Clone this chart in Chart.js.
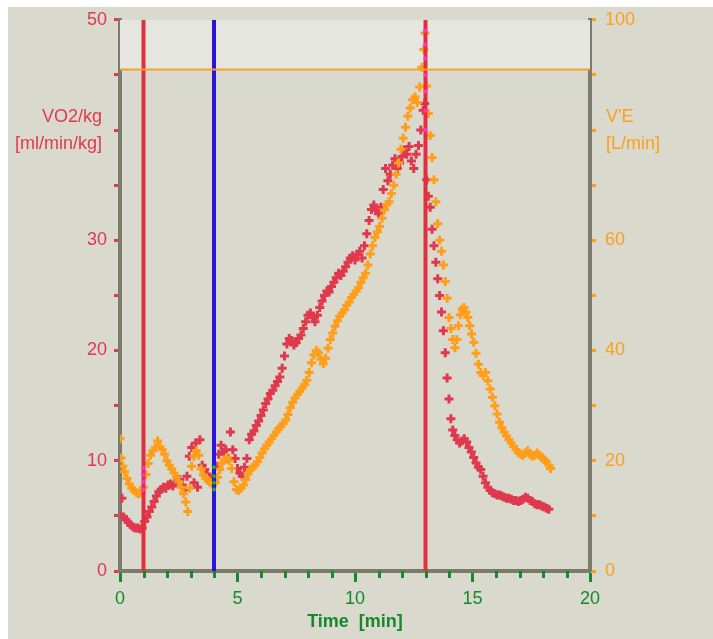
<!DOCTYPE html>
<html>
<head>
<meta charset="utf-8">
<script src="https://cdn.jsdelivr.net/npm/chart.js@4.4.1/dist/chart.umd.min.js"></script>
<style>
  html, body { margin: 0; padding: 0; background: #ffffff; }
  #frame { position: absolute; left: 8px; top: 7px; width: 705px; height: 632px; background: #d9d9ce; }
  #chart { position: absolute; left: 8px; top: 0; display: block; }
</style>
</head>
<body>
<div id="frame"></div>
<canvas id="chart" width="705" height="639"></canvas>
<script>
// VO2/kg [ml/min/kg], left axis
const vo2Time = [0.00, 0.08, 0.15, 0.25, 0.35, 0.45, 0.55, 0.65, 0.75, 0.85, 0.95, 1.05, 1.15, 1.25, 1.35, 1.45, 1.55, 1.65, 1.75, 1.85, 1.95, 2.05, 2.15, 2.25, 2.35, 2.45, 2.55, 2.65, 2.75, 2.85, 2.95, 3.05, 3.15, 3.22, 3.3, 3.4, 3.5, 3.6, 3.7, 3.8, 3.9, 4.0, 4.1, 4.2, 4.3, 4.4, 4.5, 4.6, 4.7, 4.8, 4.9, 5.0, 5.1, 5.2, 5.3, 5.4, 5.5, 5.6, 5.7, 5.8, 5.9, 6.0, 6.1, 6.2, 6.3, 6.4, 6.5, 6.6, 6.7, 6.8, 6.9, 7.0, 7.1, 7.2, 7.3, 7.4, 7.5, 7.6, 7.7, 7.8, 7.9, 8.0, 8.1, 8.2, 8.3, 8.4, 8.5, 8.6, 8.7, 8.8, 8.9, 9.0, 9.1, 9.2, 9.3, 9.4, 9.5, 9.6, 9.7, 9.8, 9.9, 10.0, 10.1, 10.2, 10.3, 10.4, 10.5, 10.6, 10.7, 10.8, 10.9, 11.0, 11.1, 11.2, 11.3, 11.4, 11.5, 11.6, 11.7, 11.8, 11.9, 12.0, 12.1, 12.2, 12.3, 12.4, 12.5, 12.6, 12.7, 12.8, 12.9, 12.97, 13.05, 13.12, 13.2, 13.28, 13.36, 13.44, 13.52, 13.6, 13.68, 13.76, 13.84, 13.92, 14.0, 14.08, 14.16, 14.25, 14.35, 14.45, 14.55, 14.65, 14.75, 14.85, 14.95, 15.05, 15.15, 15.25, 15.35, 15.45, 15.55, 15.65, 15.75, 15.85, 15.95, 16.05, 16.15, 16.25, 16.35, 16.45, 16.55, 16.65, 16.75, 16.85, 16.95, 17.05, 17.15, 17.25, 17.35, 17.45, 17.55, 17.65, 17.75, 17.85, 17.95, 18.05, 18.15, 18.25];
const vo2Kg = [5.1, 6.6, 4.9, 4.7, 4.4, 4.2, 4.0, 3.9, 3.9, 3.8, 3.9, 4.5, 4.9, 5.4, 5.8, 6.3, 6.8, 7.2, 7.4, 7.6, 7.5, 7.8, 7.9, 7.7, 8.0, 8.1, 8.3, 7.8, 7.4, 8.6, 10.4, 11.2, 8.0, 11.6, 7.6, 11.9, 9.6, 9.2, 8.8, 8.4, 8.2, 8.6, 9.5, 10.6, 11.4, 10.8, 11.0, 10.2, 12.6, 11.0, 10.2, 9.3, 8.9, 8.6, 9.4, 10.2, 11.9, 12.4, 12.7, 13.2, 13.6, 14.1, 14.6, 15.2, 15.6, 16.1, 16.4, 16.8, 17.2, 17.6, 18.4, 19.5, 20.6, 21.1, 20.9, 20.5, 20.7, 21.1, 21.4, 22.0, 22.6, 23.2, 23.4, 23.0, 22.6, 23.2, 23.9, 24.5, 25.0, 25.4, 25.3, 25.8, 26.2, 26.6, 27.0, 26.8, 27.2, 27.6, 28.0, 28.4, 28.6, 28.2, 28.7, 29.0, 28.4, 29.5, 30.6, 31.8, 32.8, 33.2, 32.7, 32.4, 33.0, 34.6, 36.5, 35.4, 36.0, 36.8, 37.4, 36.5, 37.0, 37.6, 38.2, 37.8, 38.5, 37.2, 36.5, 37.8, 38.6, 40.0, 41.8, 42.4, 35.5, 34.0, 33.0, 31.0, 29.5, 28.0, 26.5, 25.0, 23.5, 21.8, 19.8, 17.5, 15.6, 13.8, 12.8, 12.3, 11.9, 11.6, 11.8, 12.0, 11.7, 11.2, 10.8, 10.3, 9.8, 9.4, 9.2, 8.6, 8.0, 7.6, 7.3, 7.1, 7.0, 6.9, 6.9, 6.8, 6.7, 6.6, 6.6, 6.5, 6.4, 6.4, 6.3, 6.4, 6.5, 6.7, 6.6, 6.4, 6.3, 6.1, 6.0, 6.0, 5.9, 5.8, 5.7, 5.6];

// V'E [L/min], right axis
const veTime = [0.00, 0.05, 0.12, 0.2, 0.3, 0.4, 0.5, 0.6, 0.7, 0.8, 0.9, 1.0, 1.1, 1.2, 1.3, 1.4, 1.5, 1.6, 1.7, 1.8, 1.9, 2.0, 2.1, 2.2, 2.3, 2.4, 2.5, 2.6, 2.7, 2.8, 2.88, 2.97, 3.05, 3.15, 3.25, 3.35, 3.45, 3.55, 3.65, 3.75, 3.85, 3.95, 4.05, 4.15, 4.25, 4.35, 4.45, 4.55, 4.65, 4.75, 4.85, 4.95, 5.05, 5.15, 5.25, 5.35, 5.45, 5.55, 5.65, 5.75, 5.85, 5.95, 6.05, 6.15, 6.25, 6.35, 6.45, 6.55, 6.65, 6.75, 6.85, 6.95, 7.05, 7.15, 7.25, 7.35, 7.45, 7.55, 7.65, 7.75, 7.85, 7.95, 8.05, 8.15, 8.25, 8.35, 8.45, 8.55, 8.65, 8.75, 8.85, 8.95, 9.05, 9.15, 9.25, 9.35, 9.45, 9.55, 9.65, 9.75, 9.85, 9.95, 10.05, 10.15, 10.25, 10.35, 10.45, 10.55, 10.65, 10.75, 10.85, 10.95, 11.05, 11.15, 11.25, 11.35, 11.45, 11.55, 11.65, 11.75, 11.85, 11.95, 12.05, 12.15, 12.25, 12.35, 12.45, 12.55, 12.65, 12.75, 12.85, 12.93, 12.98, 13.05, 13.12, 13.2, 13.28, 13.36, 13.44, 13.52, 13.6, 13.68, 13.76, 13.84, 13.92, 14.0, 14.08, 14.16, 14.25, 14.33, 14.4, 14.48, 14.56, 14.64, 14.72, 14.8, 14.88, 14.96, 15.05, 15.15, 15.25, 15.35, 15.45, 15.55, 15.65, 15.75, 15.85, 15.95, 16.05, 16.15, 16.25, 16.35, 16.45, 16.55, 16.65, 16.75, 16.85, 16.95, 17.05, 17.15, 17.25, 17.35, 17.45, 17.55, 17.65, 17.75, 17.85, 17.95, 18.05, 18.15, 18.25, 18.32];
const veLmin = [24.0, 20.5, 19.0, 18.0, 16.8, 15.8, 15.0, 14.6, 14.2, 14.0, 14.3, 15.2, 17.5, 19.5, 21.0, 21.8, 22.4, 23.6, 22.6, 22.0, 21.2, 20.0, 19.2, 18.5, 17.8, 17.0, 16.2, 15.2, 14.0, 12.5, 10.8, 15.0, 19.0, 20.8, 21.8, 21.0, 18.5, 17.4, 16.8, 16.4, 16.0, 15.6, 16.0, 17.0, 18.4, 19.6, 20.2, 20.6, 20.0, 18.6, 16.2, 14.8, 14.6, 15.0, 15.6, 16.6, 17.6, 18.4, 18.8, 19.2, 19.8, 20.6, 21.4, 22.2, 22.8, 23.4, 24.0, 24.6, 25.2, 25.8, 26.2, 26.8, 27.4, 28.4, 29.6, 30.6, 31.4, 32.0, 32.6, 33.2, 33.8, 34.6, 36.0, 37.8, 39.2, 40.0, 39.6, 38.4, 37.6, 38.6, 40.4, 42.0, 43.2, 44.4, 45.4, 46.2, 46.8, 47.4, 48.2, 48.8, 49.6, 50.2, 50.8, 51.4, 52.4, 53.2, 54.0, 55.5, 57.5, 59.0, 60.5, 61.5, 62.5, 64.0, 65.5, 66.5, 67.0, 68.5, 70.0, 72.0, 74.0, 76.5, 78.5, 80.5, 82.5, 84.0, 85.5, 86.0, 85.0, 87.8, 91.4, 94.6, 97.6, 88.0, 83.0, 79.0, 75.0, 71.0, 67.0, 63.0, 60.0, 58.0, 55.5, 52.5, 49.5, 46.0, 44.0, 42.0, 40.5, 42.0, 44.5, 46.5, 47.5, 47.8, 47.0, 46.0, 44.5, 43.0, 41.5, 39.5, 37.5, 36.0, 35.5, 36.0, 34.5, 33.0, 31.5, 30.0, 28.5, 27.0, 26.0, 25.2, 24.5, 23.8, 23.2, 22.6, 22.0, 21.5, 21.2, 21.0, 21.4, 21.8, 21.2, 20.8, 21.0, 21.4, 21.0, 20.6, 20.2, 19.8, 19.2, 18.6];

// event markers (time in min) and the breaths highlighted on them (V'E)
const markerTimes = [1, 4, 13];
const markerColors = ['#e0303f', '#2a14d8', '#e0303f'];
const markerHighlightVe = [[14.8, 16.2, 17.4, 18.6], [14.8, 16.0, 17.2, 18.8], [80, 83.5, 87, 90, 93, 95.5, 98]];
const highlightColors = ['#ff33dd', '#22aa22', '#ff33dd'];
const mvvLine = 91;

const xLabels = [0, 5, 10, 15, 20];
const leftLabels = [0, 10, 20, 30, 50];
const rightLabels = [0, 20, 40, 60, 100];

const RED = '#e0394d';
const ORANGE = '#ff9e1a';
const GREEN = '#16892b';
const AXIS = '#7b7b6b';
const FONT = '"Liberation Sans", Arial, sans-serif';

const toPoints = (xs, ys) => xs.map((x, i) => ({ x: x, y: ys[i] }));

const datasets = [];

// light band above the MVV line
datasets.push({
  type: 'line', yAxisID: 'y2', order: 20,
  data: [{ x: 0, y: 100 }, { x: 20, y: 100 }],
  fill: { value: mvvLine }, backgroundColor: '#e6e6e0',
  borderWidth: 0, pointRadius: 0,
});

datasets.push({
  type: 'scatter', label: 'VO2/kg', yAxisID: 'y', order: 11,
  data: toPoints(vo2Time, vo2Kg),
  pointStyle: 'cross', pointRadius: 4.5, borderWidth: 3,
  borderColor: RED, backgroundColor: RED,
});

datasets.push({
  type: 'scatter', label: "V'E", yAxisID: 'y2', order: 10,
  data: toPoints(veTime, veLmin),
  pointStyle: 'cross', pointRadius: 4.5, borderWidth: 3,
  borderColor: ORANGE, backgroundColor: ORANGE,
});

markerTimes.forEach((t, i) => {
  datasets.push({
    type: 'line', yAxisID: 'y', order: 5,
    data: [{ x: t, y: 0 }, { x: t, y: 50 }],
    borderColor: markerColors[i], borderWidth: 4, pointRadius: 0, fill: false,
  });
});

datasets.push({
  type: 'line', yAxisID: 'y2', order: 4,
  data: [{ x: 0, y: mvvLine }, { x: 20, y: mvvLine }],
  borderColor: '#f5a02a', borderWidth: 2, pointRadius: 0, fill: false,
});

markerTimes.forEach((t, i) => {
  datasets.push({
    type: 'scatter', yAxisID: 'y2', order: 1,
    data: markerHighlightVe[i].map(v => ({ x: t, y: v })),
    pointStyle: 'cross', pointRadius: 2, borderWidth: 2,
    borderColor: highlightColors[i],
  });
});

// minor x ticks are shorter than the labelled ones
const minorTicks = {
  id: 'minorTicks',
  afterDraw(chart) {
    const { ctx, chartArea, scales } = chart;
    ctx.save();
    ctx.strokeStyle = GREEN;
    ctx.lineWidth = 3;
    for (let i = 0; i <= 20; i++) {
      if (xLabels.includes(i)) continue;
      const px = Math.round(scales.x.getPixelForValue(i)) + 0.5;
      ctx.beginPath();
      ctx.moveTo(px, chartArea.bottom);
      ctx.lineTo(px, chartArea.bottom + 7);
      ctx.stroke();
    }
    ctx.restore();
  }
};

// axis titles written horizontally beside the axes
const axisTitles = {
  id: 'axisTitles',
  afterDraw(chart) {
    const { ctx, chartArea } = chart;
    ctx.save();
    ctx.textBaseline = 'middle';
    ctx.font = '18px ' + FONT;
    ctx.fillStyle = RED;
    ctx.textAlign = 'right';
    ctx.fillText('VO2/kg', chartArea.left - 18, chartArea.top + 97);
    ctx.fillText('[ml/min/kg]', chartArea.left - 18, chartArea.top + 124);
    ctx.fillStyle = ORANGE;
    ctx.textAlign = 'left';
    ctx.fillText("V'E", chartArea.right + 16, chartArea.top + 97);
    ctx.fillText('[L/min]', chartArea.right + 16, chartArea.top + 124);
    ctx.fillStyle = GREEN;
    ctx.textAlign = 'center';
    ctx.font = 'bold 18px ' + FONT;
    ctx.fillText('Time  [min]', (chartArea.left + chartArea.right) / 2, chartArea.bottom + 51);
    ctx.restore();
  }
};

new Chart(document.getElementById('chart'), {
  type: 'scatter',
  data: { datasets: datasets },
  plugins: [minorTicks, axisTitles],
  options: {
    responsive: false,
    animation: false,
    devicePixelRatio: 1,
    layout: { padding: { top: 5, left: 0, right: 0, bottom: 0 } },
    plugins: { legend: { display: false }, tooltip: { enabled: false } },
    scales: {
      x: {
        type: 'linear', position: 'bottom', min: 0, max: 20,
        afterFit: s => { s.height = 68; },
        border: { color: AXIS, width: 4 },
        grid: {
          drawOnChartArea: false, tickLength: 11, tickWidth: 3,
          tickColor: c => xLabels.includes(c.tick.value) ? GREEN : 'rgba(0,0,0,0)',
        },
        ticks: {
          stepSize: 1, autoSkip: false, maxRotation: 0, padding: 6,
          color: GREEN, font: { size: 18, family: FONT },
          callback: v => xLabels.includes(v) ? String(v) : '',
        },
      },
      y: {
        type: 'linear', position: 'left', min: 0, max: 50,
        afterFit: s => { s.width = 112; },
        border: { color: AXIS, width: 4 },
        grid: { drawOnChartArea: false, tickLength: 6, tickWidth: 3, tickColor: RED },
        ticks: {
          stepSize: 5, autoSkip: false, padding: 7,
          color: RED, font: { size: 18, family: FONT },
          callback: v => leftLabels.includes(v) ? String(v) : '',
        },
      },
      y2: {
        type: 'linear', position: 'right', min: 0, max: 100,
        afterFit: s => { s.width = 123; },
        border: { color: AXIS, width: 4 },
        grid: { drawOnChartArea: false, tickLength: 6, tickWidth: 3, tickColor: ORANGE },
        ticks: {
          stepSize: 10, autoSkip: false, padding: 9,
          color: ORANGE, font: { size: 18, family: FONT },
          callback: v => rightLabels.includes(v) ? String(v) : '',
        },
      },
    },
  },
});
</script>
</body>
</html>
